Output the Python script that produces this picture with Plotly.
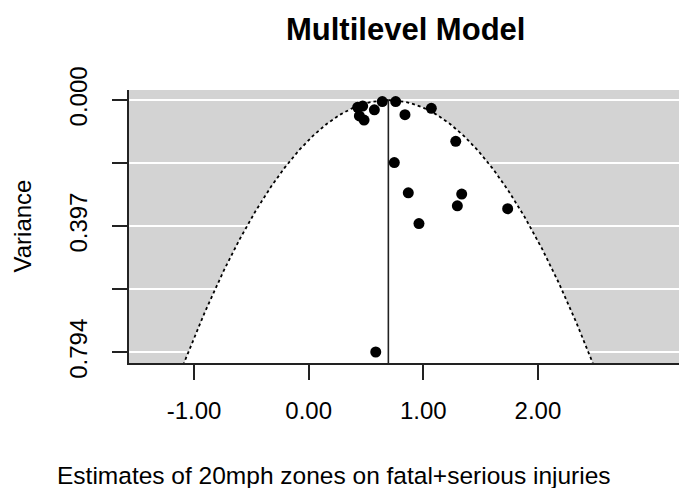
import numpy as np
import plotly.graph_objects as go

# Study estimates (x) and their sampling variances (y)
estimates = [0.427, 0.471, 0.442, 0.483, 0.573, 0.642, 0.759, 0.840, 1.070,
             1.283, 0.747, 0.869, 1.335, 1.297, 1.736, 0.962, 0.585]
variances = [0.023, 0.019, 0.050, 0.063, 0.031, 0.005, 0.005, 0.046, 0.026,
             0.130, 0.197, 0.292, 0.296, 0.333, 0.342, 0.389, 0.793]

pooled_estimate = 0.695
z_crit = 1.96

x_tick_vals = [-1.0, 0.0, 1.0, 2.0]
x_tick_text = ["-1.00", "0.00", "1.00", "2.00"]
y_tick_vals = [0.0, 0.1985, 0.397, 0.5955, 0.794]
y_tick_text = ["0.000", "", "0.397", "", "0.794"]

x_range = [-1.568, 3.231]
y_range = [0.8276, -0.0315]

# pseudo-confidence funnel around the pooled estimate
v_grid = np.linspace(0, 0.95, 300)
left_x = pooled_estimate - z_crit * np.sqrt(v_grid)
right_x = pooled_estimate + z_crit * np.sqrt(v_grid)
poly_x = np.concatenate([left_x[::-1], right_x])
poly_y = np.concatenate([v_grid[::-1], v_grid])

FONT = "Liberation Sans, Arial, sans-serif"
AX = "#222222"

fig = go.Figure()
fig.add_trace(go.Scatter(x=poly_x, y=poly_y, mode="lines", fill="toself",
                         fillcolor="white", line=dict(width=0),
                         hoverinfo="skip", showlegend=False))
fig.add_trace(go.Scatter(x=left_x, y=v_grid, mode="lines",
                         line=dict(color="black", width=1.8, dash="dot"),
                         hoverinfo="skip", showlegend=False))
fig.add_trace(go.Scatter(x=right_x, y=v_grid, mode="lines",
                         line=dict(color="black", width=1.8, dash="dot"),
                         hoverinfo="skip", showlegend=False))
fig.add_trace(go.Scatter(x=[pooled_estimate, pooled_estimate], y=[0, 0.95],
                         mode="lines", line=dict(color="#222222", width=1.6),
                         hoverinfo="skip", showlegend=False))
fig.add_trace(go.Scatter(x=estimates, y=variances, mode="markers",
                         marker=dict(color="black", size=11),
                         showlegend=False))

fig.update_layout(
    width=679, height=488,
    margin=dict(l=129, r=0, t=90, b=125),
    paper_bgcolor="white",
    plot_bgcolor="#D3D3D3",
    font=dict(family=FONT, color="black"),
    showlegend=False,
)
fig.update_xaxes(range=x_range, tickvals=x_tick_vals, ticktext=x_tick_text,
                 showgrid=False, zeroline=False, showline=True,
                 linecolor=AX, linewidth=1.5, ticks="outside", ticklen=15,
                 tickwidth=1.5, tickcolor=AX, tickfont=dict(size=24),
                 ticklabelstandoff=10)
fig.update_yaxes(range=y_range, tickvals=y_tick_vals, ticktext=y_tick_text,
                 showgrid=True, gridcolor="white", gridwidth=1.6,
                 zeroline=False, showline=True, linecolor=AX, linewidth=1.5,
                 ticks="outside", ticklen=15, tickwidth=1.5, tickcolor=AX,
                 tickfont=dict(size=24), tickangle=-90, ticklabelstandoff=16)

fig.add_annotation(text="<b>Multilevel Model</b>", xref="paper", yref="paper",
                   x=(405 - 129) / 550, y=1 + (90 - 30) / 273,
                   xanchor="center", yanchor="middle", showarrow=False,
                   font=dict(size=31, family=FONT, color="black"))
fig.add_annotation(text="Variance", xref="paper", yref="paper",
                   x=(22 - 129) / 550, y=0.5, textangle=-90,
                   xanchor="center", yanchor="middle", showarrow=False,
                   font=dict(size=24, family=FONT, color="black"))
fig.add_annotation(text="Estimates of 20mph zones on fatal+serious injuries",
                   xref="paper", yref="paper",
                   x=(334 - 129) / 550, y=-(476 - 363) / 273,
                   xanchor="center", yanchor="middle", showarrow=False,
                   font=dict(size=24.5, family=FONT, color="black"))

fig.write_html("out.html")
